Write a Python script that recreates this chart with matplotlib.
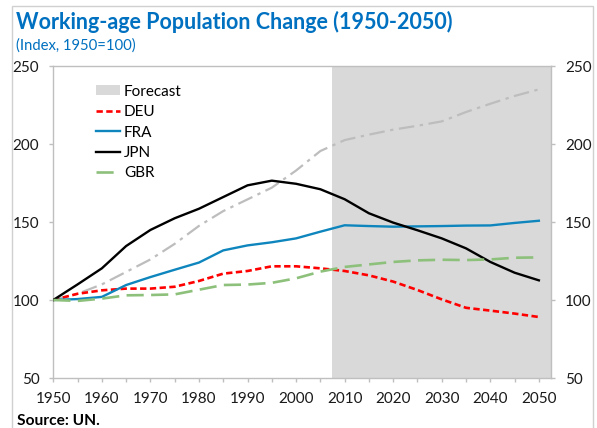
import matplotlib
matplotlib.use("Agg")
import matplotlib.pyplot as plt
from matplotlib.patches import Patch, Rectangle
from matplotlib.lines import Line2D
import numpy as np

years = [1950, 1955, 1960, 1965, 1970, 1975, 1980, 1985, 1990, 1995, 2000,
         2005, 2010, 2015, 2020, 2025, 2030, 2035, 2040, 2045, 2050]
deu = [100, 104, 106.2, 107.3, 107.3, 108.5, 112.2, 116.9, 118.6, 121.6, 121.6,
       120.3, 118.6, 115.8, 111.8, 106.4, 100.4, 95, 93.2, 91.3, 89.1]
fra = [100, 100.6, 102, 109.6, 114.7, 119.4, 124, 131.8, 135, 137, 139.5,
       143.8, 147.9, 147.4, 147, 147.2, 147.4, 147.7, 147.8, 149.4, 150.8]
jpn = [100, 110, 120.3, 134.6, 144.9, 152.4, 158.5, 166, 173.5, 176.5, 174.5,
       171, 164.6, 155.6, 149.6, 144.7, 139.5, 133.1, 124.4, 117.5, 112.6]
gbr = [100, 99.4, 100.9, 103, 103.2, 103.6, 106.6, 109.6, 109.9, 111, 113.9,
       118.2, 121.2, 122.8, 124.4, 125.4, 125.8, 125.6, 126, 127.1, 127.3]
gray_series = [100, 104, 110, 118, 126, 136, 147.5, 157, 164.5, 172, 183,
               195.5, 202.5, 206, 209.2, 211.7, 214.5, 220.5, 225.8, 230.8, 235]
forecast_span = [2007.5, 2052.5]
y_ticks = [50, 100, 150, 200, 250]
x_ticks = [1950, 1960, 1970, 1980, 1990, 2000, 2010, 2020, 2030, 2040, 2050]

FONT = "Lato"
plt.rcParams['font.family'] = [FONT, 'DejaVu Sans']

W, H = 597, 428
fig = plt.figure(figsize=(W / 100, H / 100), dpi=100)
ax = fig.add_axes([53.3 / W, 1 - 378 / H, (551 - 53.3) / W, (378 - 66) / H])

blue_title = "#0070C0"
spine_c = "#BFBFBF"

ax.axvspan(forecast_span[0], forecast_span[1], color="#D9D9D9", lw=0, zorder=0)

ax.plot(years, gray_series, color="#BDBDBD", lw=1.6, dashes=(7, 2.5, 1.5, 2.5),
        label="_nolegend_", zorder=2)
ax.plot(years, deu, color="#FF0000", lw=1.9, dashes=(2.4, 1.3), zorder=3)
ax.plot(years, fra, color="#0E86BD", lw=1.7, zorder=3)
ax.plot(years, jpn, color="#000000", lw=1.7, zorder=3)
ax.plot(years, gbr, color="#8DC07B", lw=1.9, dashes=(6.5, 2.8), zorder=3)

ax.set_xlim(1950, 2052.5)
ax.set_ylim(50, 250)
ax.set_yticks(y_ticks)
ax.set_xticks(x_ticks)
ax.set_xticks(np.arange(1955, 2051, 10), minor=True)

for s in ax.spines.values():
    s.set_color(spine_c)
    s.set_linewidth(1.0)

ax.tick_params(axis='both', which='both', direction='out', length=3, width=1,
               color=spine_c, labelsize=11, labelcolor="#1a1a1a", pad=7)
ax.tick_params(axis='y', right=True, labelright=True)

handles = [
    Patch(facecolor="#D9D9D9", edgecolor="none", label="Forecast"),
    Line2D([], [], color="#FF0000", lw=1.9, dashes=(2.4, 1.3), label="DEU"),
    Line2D([], [], color="#0E86BD", lw=1.7, label="FRA"),
    Line2D([], [], color="#000000", lw=1.7, label="JPN"),
    Line2D([], [], color="#8DC07B", lw=1.9, dashes=(6.5, 2.8), label="GBR"),
]
leg = ax.legend(handles=handles, loc="upper left", bbox_to_anchor=(0.085, 0.94),
                frameon=False, fontsize=11, handlelength=1.6, handleheight=0.6,
                handletextpad=0.25, labelspacing=0.42, borderpad=0, borderaxespad=0)

fig.text(16 / W, 1 - 22 / H, "Working-age Population Change (1950-2050)",
         color=blue_title, fontsize=15.5, fontweight="bold", va="center", ha="left")
fig.text(16 / W, 1 - 46 / H, "(Index, 1950=100)", color=blue_title,
         fontsize=10.7, va="center", ha="left")
fig.text(17 / W, 1 - 421 / H, "Source: UN.", color="black", fontsize=11.2,
         fontweight="bold", va="center", ha="left")

fig.patches.append(Rectangle((12 / W, -0.05), (593 - 12) / W, 1.05 - 6 / H,
                             transform=fig.transFigure, fill=False,
                             edgecolor="#D0D0D0", lw=1.0))

fig.savefig("out.png", dpi=100)
